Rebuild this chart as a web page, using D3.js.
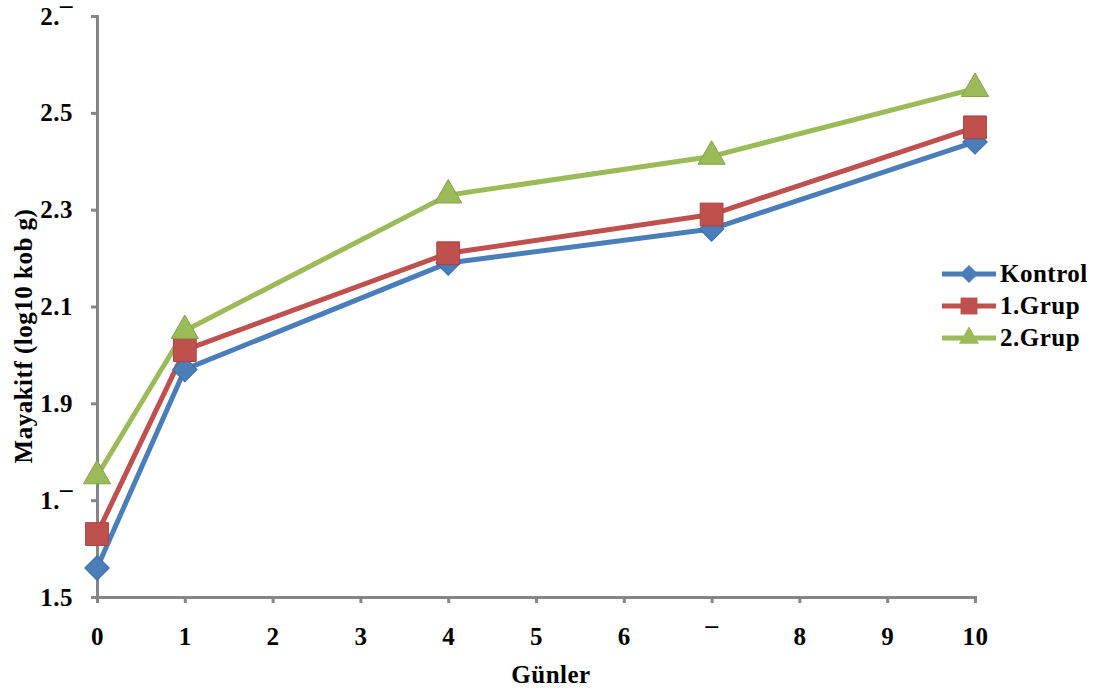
<!DOCTYPE html>
<html><head><meta charset="utf-8">
<script src="https://cdn.jsdelivr.net/npm/d3@7"></script>
<style>body{margin:0;background:#fff}svg{display:block}text{font-family:"Liberation Serif","Times New Roman",serif;font-weight:bold;fill:#000}</style>
</head><body><svg id="c" width="1101" height="697"></svg>
<script>
const days = [0, 1, 4, 7, 10];
const kontrol = [1.56, 1.97, 2.19, 2.26, 2.44];
const grup1 = [1.63, 2.01, 2.21, 2.29, 2.47];
const grup2 = [1.75, 2.05, 2.33, 2.41, 2.55];
const seriesNames = ["Kontrol", "1.Grup", "2.Grup"];
const xTicks = [0,1,2,3,4,5,6,7,8,9,10];
const xTickLabels = ["0","1","2","3","4","5","6","¯","8","9","10"];
const yTicks = [1.5,1.7,1.9,2.1,2.3,2.5,2.7];
const yTickLabels = ["1.5","1.¯","1.9","2.1","2.3","2.5","2.¯"];
const xTitle = "Günler";
const yTitle = "Mayakitf (log10 kob  g)";

const colors = ["#4A7EBB", "#C0504D", "#9BBB59"];
const svg = d3.select("#c");
const x = d3.scaleLinear().domain([0,10]).range([97,975]);
const y = d3.scaleLinear().domain([1.5,2.7]).range([597,16]);
const axisColor = "#868686";
const fs = 25;

const gy = svg.append("g").attr("transform","translate(97,0)")
  .call(d3.axisLeft(y).tickValues(yTicks).tickSize(6).tickFormat((d,i)=>yTickLabels[i]));
gy.select(".domain").attr("stroke",axisColor).attr("stroke-width",3);
gy.selectAll(".tick line").attr("stroke",axisColor).attr("stroke-width",3);
gy.selectAll(".tick text").attr("x",-24).attr("font-size",fs).attr("font-family",null).attr("letter-spacing",0.5);

const gx = svg.append("g").attr("transform","translate(0,597)")
  .call(d3.axisBottom(x).tickValues(xTicks).tickSize(6).tickFormat((d,i)=>xTickLabels[i]));
gx.select(".domain").attr("stroke",axisColor).attr("stroke-width",3);
gx.selectAll(".tick line").attr("stroke",axisColor).attr("stroke-width",3);
gx.selectAll(".tick text").attr("y",48).attr("dy",0).attr("font-size",fs).attr("font-family",null).attr("letter-spacing",0.5);

svg.append("text").attr("x",551).attr("y",683).attr("text-anchor","middle").attr("font-size",fs).attr("letter-spacing",0.5).text(xTitle);
svg.append("text").attr("transform","translate(32,336) rotate(-90)").attr("text-anchor","middle").attr("font-size",fs).attr("letter-spacing",0.5).text(yTitle);

const data = [kontrol, grup1, grup2];
const line = d3.line().x((d,i)=>x(days[i])).y(d=>y(d));
const symbols = [d3.symbolSquare, d3.symbolSquare, d3.symbolTriangle];
const sizes = [300, 520, 320];
const rots = [45, 0, 0];
data.forEach((vals,k)=>{
  svg.append("path").datum(vals).attr("d",line).attr("fill","none")
    .attr("stroke",colors[k]).attr("stroke-width",5).attr("stroke-linejoin","round");
});
data.forEach((vals,k)=>{
  svg.selectAll(null).data(vals).enter().append("path")
    .attr("d",d3.symbol().type(symbols[k]).size(sizes[k]))
    .attr("transform",(d,i)=>`translate(${x(days[i])},${y(d)}) rotate(${rots[k]})`)
    .attr("fill",colors[k]).attr("stroke",d3.color(colors[k]).darker(0.4)).attr("stroke-width",1);
});

// legend
const lg = svg.append("g");
seriesNames.forEach((n,k)=>{
  const yy = 274 + k*32;
  lg.append("line").attr("x1",942).attr("x2",996).attr("y1",yy).attr("y2",yy)
    .attr("stroke",colors[k]).attr("stroke-width",5);
  lg.append("path").attr("d",d3.symbol().type(symbols[k]).size(sizes[k]*0.55))
    .attr("transform",`translate(969,${yy}) rotate(${rots[k]})`).attr("fill",colors[k]);
  lg.append("text").attr("x",1000).attr("y",yy+8).attr("font-size",fs).attr("letter-spacing",0.5).text(n);
});
</script></body></html>
